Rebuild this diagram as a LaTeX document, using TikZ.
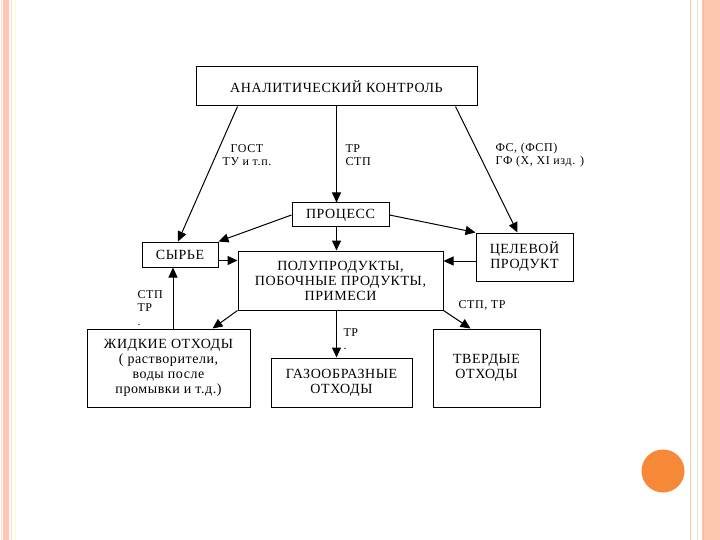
\documentclass[tikz,border=0pt]{standalone}
\usepackage{fontspec}
\setmainfont{Liberation Serif}
\newfontfamily\boxfont[LetterSpace=4]{Liberation Serif}
\newfontfamily\labfont[LetterSpace=5]{Liberation Serif}
\usetikzlibrary{arrows.meta}
\definecolor{stripe}{RGB}{252,198,176}
\definecolor{spot}{RGB}{246,137,56}
\begin{document}
\begin{tikzpicture}[x=1pt,y=-1pt,line width=1pt,b/.style={draw,align=center,inner sep=0pt,font=\boxfont\fontsize{14}{15}\selectfont},lab/.style={align=left,inner sep=0pt,font=\labfont\fontsize{12}{13.5}\selectfont},>={Triangle[length=10pt,width=9pt]}]
\useasboundingbox (0,0) rectangle (720,540);
\fill[white] (0,0) rectangle (720,540);
% slide frame
\fill[stripe] (3,0) rectangle (9,540);
\draw[stripe!60,line width=0.6pt] (1,0)--(1,540) (11,0)--(11,540);
\draw[yellow!25,line width=0.6pt] (15,0)--(15,540);
\draw[stripe,line width=1pt] (690,0)--(690,540);
\draw[stripe!70,line width=1pt] (697,0)--(697,540);
\fill[stripe] (702,0) rectangle (720,540);
\draw[stripe!80!orange,line width=0.8pt] (703,0)--(703,540);
\fill[spot] (663,471) circle (21.5);
% boxes
\node[b,minimum width=281,minimum height=39] (ak) at (336.5,86.5) {АНАЛИТИЧЕСКИЙ КОНТРОЛЬ};
\node[b,minimum width=97,minimum height=24] (proc) at (340.5,215) {ПРОЦЕСС};
\node[b,minimum width=76,minimum height=25] (syr) at (180,254.5) {СЫРЬЕ};
\node[b,minimum width=205,minimum height=59] (polu) at (340.5,280.5) {ПОЛУПРОДУКТЫ,\\ПОБОЧНЫЕ ПРОДУКТЫ,\\ПРИМЕСИ};
\node[b,minimum width=97,minimum height=48] (cel) at (524.5,257) {ЦЕЛЕВОЙ\\ПРОДУКТ};
\node[b,minimum width=163,minimum height=78] (zhid) at (168.5,368) {ЖИДКИЕ ОТХОДЫ\\( растворители,\\воды после\\промывки и т.д.)};
\node[b,minimum width=141,minimum height=49] (gas) at (341.5,382.5) {ГАЗООБРАЗНЫЕ\\ОТХОДЫ};
\node[b,minimum width=107,minimum height=78] (tv) at (486.5,368) {ТВЕРДЫЕ\\ОТХОДЫ};
% labels
\node[lab,align=center] (gost) at (247,155) {ГОСТ\\ТУ и т.п.};
\node[lab,anchor=west] (trstp) at (345,155) {ТР\\СТП};
\node[lab,anchor=west] (fs) at (495,155) {ФС, (ФСП)\\ГФ (X, XI изд. )};
\node[lab,anchor=west] (stp1) at (137,308) {СТП\\ТР\\.};
\node[lab,anchor=west] (stp2) at (458,305) {СТП, ТР};
\node[lab,anchor=west] (tr) at (343,339) {ТР\\.};
% arrows
\coordinate (se) at ([yshift=-6pt]syr.east);
\coordinate (cw) at ([yshift=-4pt]cel.west);
\coordinate (zs) at ([xshift=4.5pt]zhid.north);
\draw[->] ([xshift=42pt]ak.south west)--([xshift=-2pt]syr.north);
\draw[->] (ak.south)--(ak.south |- proc.north);
\draw[->] ([xshift=-22pt]ak.south east)--([xshift=-7pt]cel.north);
\draw[->] (proc.west)--(syr.north east);
\draw[->] (proc.east)--(cel.north west);
\draw[->] (ak.south |- proc.south)--(ak.south |- polu.north);
\draw[->] (se)--(polu.west |- se);
\draw[->] (cw)--(polu.east |- cw);
\draw[->] (polu.south west)--([xshift=44pt]zhid.north);
\draw[->] (ak.south |- polu.south)--(ak.south |- gas.north);
\draw[->] (polu.south east)--([xshift=-16pt]tv.north);
\draw[->] (zs)--(zs |- syr.south);
\end{tikzpicture}
\end{document}
